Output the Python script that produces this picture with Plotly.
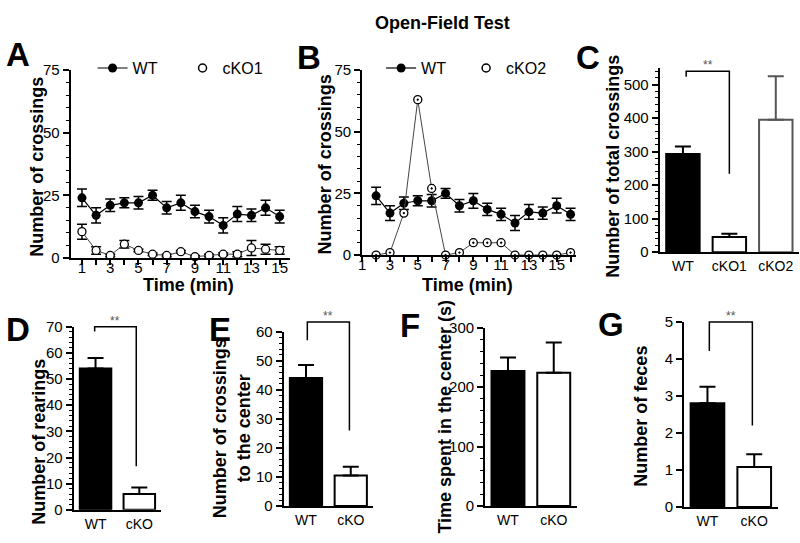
import plotly.graph_objects as go

# ---------------- data ----------------
time_A = list(range(1, 16))
time_B = list(range(2, 17))
wt_mean = [24, 17, 21, 22, 22, 25, 20, 22, 18.5, 16.5, 13, 17.5, 17, 20, 16.5]
wt_err = [3.5, 3, 2.5, 2, 2.5, 2, 2.5, 3, 2.5, 2.5, 3, 3, 2.5, 3, 2.5]
cko1_mean = [10.5, 3, 1, 5.5, 3, 1.5, 1, 2.5, 0.5, 1, 1.5, 1.5, 4, 3.5, 3]
cko1_err = [3, 1.5, 0.5, 1.5, 0.5, 0.5, 0.5, 0.5, 0.5, 0.5, 0.5, 1, 3, 2, 1.5]
cko2_mean = [0, 1, 17, 63, 27, 0, 1, 5, 5, 5, 0, 0, 0, 0, 1]
x_ticks_line = [1, 3, 5, 7, 9, 11, 13, 15]

groups_C = ["WT", "cKO1", "cKO2"]
total_mean = [293, 45, 395]
total_err = [22, 10, 130]

groups_2 = ["WT", "cKO"]
rear_mean = [54, 6]
rear_err = [4, 2.5]
center_cross_mean = [44, 10.5]
center_cross_err = [4.5, 3]
center_time_mean = [227, 224]
center_time_err = [23, 51]
feces_mean = [2.8, 1.08]
feces_err = [0.45, 0.34]

# significance brackets: (left cat, right cat, top, left leg bottom, right leg bottom)
bracket_C = [0.07, 1.0, 540, 523, 234]
bracket_D = [-0.02, 0.93, 70, 68.2, 16.7]
bracket_E = [0.03, 0.97, 63.3, 57, 26]
bracket_G = [0.04, 0.96, 5.0, 4.21, 2.2]

# ---------------- layout helpers ----------------
W, H = 800, 543
FONT = "Arial, Liberation Sans, sans-serif"


def dx(a, b):
    return [a / W, b / W]


def dy(top, bottom):
    return [1 - bottom / H, 1 - top / H]


fig = go.Figure()

# ---- Panel A ----
fig.add_trace(go.Scatter(
    x=time_A, y=cko1_mean, mode="lines+markers",
    error_y=dict(type="data", array=cko1_err, color="black", thickness=1.5, width=5),
    line=dict(color="#444", width=1),
    marker=dict(symbol="circle", size=8, color="white", line=dict(color="black", width=1.3)),
    xaxis="x", yaxis="y", cliponaxis=False, showlegend=False))
fig.add_trace(go.Scatter(
    x=time_A, y=wt_mean, mode="lines+markers", name="WT", legend="legend",
    error_y=dict(type="data", array=wt_err, color="black", thickness=1.5, width=5),
    line=dict(color="black", width=1.2),
    marker=dict(symbol="circle", size=9, color="black"),
    xaxis="x", yaxis="y", cliponaxis=False))
fig.add_trace(go.Scatter(
    x=[None], y=[None], mode="markers", name="cKO1", legend="legend",
    marker=dict(symbol="circle", size=8, color="white", line=dict(color="black", width=1.5)),
    xaxis="x", yaxis="y"))

# ---- Panel B ----
fig.add_trace(go.Scatter(
    x=time_B, y=wt_mean, mode="lines+markers", name="WT", legend="legend2",
    error_y=dict(type="data", array=wt_err, color="black", thickness=1.5, width=5),
    line=dict(color="black", width=1.2),
    marker=dict(symbol="circle", size=9, color="black"),
    xaxis="x2", yaxis="y2", cliponaxis=False))
fig.add_trace(go.Scatter(
    x=time_B, y=cko2_mean, mode="lines+markers",
    line=dict(color="#444", width=1),
    marker=dict(symbol="circle-dot", size=8, color="white", line=dict(color="black", width=1.3)),
    xaxis="x2", yaxis="y2", cliponaxis=False, showlegend=False))
fig.add_trace(go.Scatter(
    x=[None], y=[None], mode="markers", name="cKO2", legend="legend2",
    marker=dict(symbol="circle", size=8, color="white", line=dict(color="black", width=1.5)),
    xaxis="x2", yaxis="y2"))


# ---- bar panels ----
def add_bars(cats, means, errs, xa, ya, fills, outlines, errcolors):
    for c, m, e, f, o, ec in zip(cats, means, errs, fills, outlines, errcolors):
        fig.add_trace(go.Bar(
            x=[c], y=[m], width=0.72, xaxis=xa, yaxis=ya, showlegend=False,
            marker=dict(color=f, line=dict(color=o, width=2)),
            error_y=dict(type="data", array=[e], arrayminus=[0], symmetric=False,
                         color=ec, thickness=2, width=8)))


add_bars(groups_C, total_mean, total_err, "x3", "y3",
         ["black", "white", "white"], ["black", "black", "#555"], ["black", "black", "#555"])
add_bars(groups_2, rear_mean, rear_err, "x4", "y4",
         ["black", "white"], ["black", "black"], ["black", "black"])
add_bars(groups_2, center_cross_mean, center_cross_err, "x5", "y5",
         ["black", "white"], ["black", "black"], ["black", "black"])
add_bars(groups_2, center_time_mean, center_time_err, "x6", "y6",
         ["black", "white"], ["black", "black"], ["black", "black"])
add_bars(groups_2, feces_mean, feces_err, "x7", "y7",
         ["black", "white"], ["black", "black"], ["black", "black"])

# ---------------- axes ----------------
axis_common = dict(showline=True, linecolor="black", linewidth=2, ticks="outside",
                   tickcolor="black", tickwidth=1.5, showgrid=False, zeroline=False,
                   tickfont=dict(family=FONT, size=15, color="black"))


def line_x(domain, rng, anchor):
    return dict(axis_common, domain=domain, range=rng, anchor=anchor, tickvals=x_ticks_line,
                ticklen=5, ticklabelstandoff=-10,
                minor=dict(dtick=1, tick0=0, ticks="outside", ticklen=5,
                           tickcolor="black", tickwidth=1.5))


def line_y(domain, anchor):
    return dict(axis_common, domain=domain, range=[0, 75], anchor=anchor, dtick=25, ticklen=6,
                minor=dict(dtick=5, ticks="outside", ticklen=3, tickcolor="black", tickwidth=1))


def bar_x(domain, anchor, n):
    return dict(axis_common, domain=domain, anchor=anchor, range=[-0.5, n - 0.5],
                type="category", ticks="", tickfont=dict(family=FONT, size=14, color="black"))


def bar_y(domain, anchor, rng, dt, mdt):
    d = dict(axis_common, domain=domain, anchor=anchor, range=rng, dtick=dt, ticklen=6)
    if mdt:
        d["minor"] = dict(dtick=mdt, ticks="outside", ticklen=3, tickcolor="black", tickwidth=1)
    return d


fig.update_layout(
    xaxis=line_x(dx(67, 287), [0.2, 15.7], "y"),
    yaxis=line_y(dy(63, 257), "x"),
    xaxis2=line_x(dx(360, 575), [1, 16.4], "y2"),
    yaxis2=line_y(dy(63, 254), "x2"),
    xaxis3=bar_x(dx(659, 799), "y3", 3),
    yaxis3=bar_y(dy(60.7, 251), "x3", [0, 550], 100, 20),
    xaxis4=bar_x(dx(70, 158), "y4", 2),
    yaxis4=bar_y(dy(328, 517), "x4", [0, 70], 10, 2),
    xaxis5=bar_x(dx(281, 371), "y5", 2),
    yaxis5=bar_y(dy(333, 513), "x5", [0, 60], 10, 2),
    xaxis6=bar_x(dx(483.5, 575.5), "y6", 2),
    yaxis6=bar_y(dy(329, 513), "x6", [0, 300], 100, 20),
    xaxis7=bar_x(dx(683.5, 777.5), "y7", 2),
    yaxis7=bar_y(dy(323, 514), "x7", [0, 5], 1, None),
)

# ---------------- brackets ----------------
def add_bracket(br, xa, ya, ncat, ymax):
    xl, xr, top, lb, rb = br
    fx = lambda c: (c + 0.5) / ncat
    fy = lambda v: v / ymax
    path = (f"M {fx(xl)},{fy(lb)} L {fx(xl)},{fy(top)} "
            f"L {fx(xr)},{fy(top)} L {fx(xr)},{fy(rb)}")
    fig.add_shape(type="path", path=path, xref=f"{xa} domain", yref=f"{ya} domain",
                  line=dict(color="black", width=1.5))
    fig.add_annotation(x=(fx(xl) + fx(xr)) / 2, y=fy(top), xref=f"{xa} domain",
                       yref=f"{ya} domain", text="**", showarrow=False, yanchor="bottom",
                       yshift=-3, font=dict(family=FONT, size=12, color="#555"))


add_bracket(bracket_C, "x3", "y3", 3, 550)
add_bracket(bracket_D, "x4", "y4", 2, 70)
add_bracket(bracket_E, "x5", "y5", 2, 60)
add_bracket(bracket_G, "x7", "y7", 2, 5)

# ---------------- texts ----------------
def ann(text, xp, yp, size, bold=True, angle=0, **kw):
    fig.add_annotation(text=f"<b>{text}</b>" if bold else text, x=xp / W, y=1 - yp / H,
                       xref="paper", yref="paper", showarrow=False, textangle=angle,
                       font=dict(family=FONT, size=size, color="black"),
                       xanchor="center", yanchor="middle", **kw)


ann("Open-Field Test", 441, 14, 18)
for letter, (lx, ly) in {"A": (14, 47), "B": (307, 50), "C": (587, 50), "D": (14, 331),
                         "E": (217, 331), "F": (408, 327), "G": (610, 326)}.items():
    ann(letter, lx, ly, 33)

ann("Number of crossings", 33, 163, 18, angle=-90)
ann("Number of crossings", 323, 160, 18, angle=-90)
ann("Number of total crossings", 612, 162, 18, angle=-90)
ann("Number of rearings", 35, 447, 18, angle=-90)
ann("Number of crossings<br>to the center", 229, 433, 18, angle=-90)
ann("Time spent in the center (s)", 443, 421, 18, angle=-90)
ann("Number of feces", 640, 420, 18, angle=-90)
ann("Time (min)", 185, 285, 18)
ann("Time (min)", 466, 285, 18)

leg_common = dict(orientation="h", xanchor="left", yanchor="middle", bgcolor="rgba(0,0,0,0)",
                  font=dict(family=FONT, size=16, color="black"), itemwidth=30,
                  entrywidthmode="pixels", tracegroupgap=0)
fig.update_layout(
    legend=dict(leg_common, x=89 / W, y=1 - 61 / H, entrywidth=45),
    legend2=dict(leg_common, x=379 / W, y=1 - 61 / H, entrywidth=40),
    barmode="overlay",
    width=W, height=H, margin=dict(l=0, r=0, t=0, b=0),
    paper_bgcolor="white", plot_bgcolor="white",
    font=dict(family=FONT, color="black"),
)

fig.write_html("out.html", config={"displayModeBar": False},
               post_script="document.body.style.margin='0';document.body.style.overflow='hidden';")
